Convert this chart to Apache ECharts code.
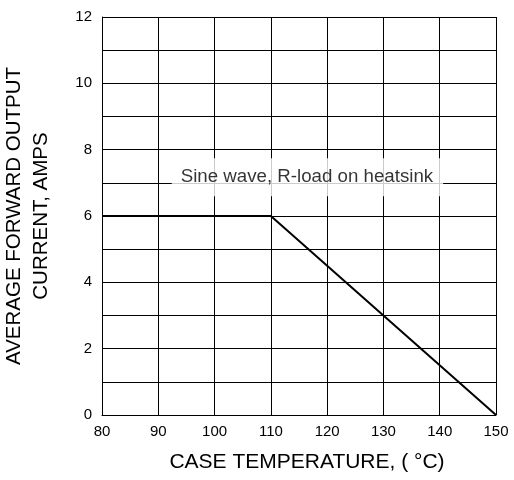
<!DOCTYPE html>
<html>
<head>
<meta charset="utf-8">
<script src="https://cdn.jsdelivr.net/npm/echarts@6/dist/echarts.min.js"></script>
<style>html,body{margin:0;padding:0;background:#fff;}#c{width:514px;height:480px;}</style>
</head>
<body>
<div id="c"></div>
<script>
// Data
var tempC = [80, 110, 150];
var currentA = [6, 6, 0];
var xTicks = [80, 90, 100, 110, 120, 130, 140, 150];
var yTickLabels = [0, 2, 4, 6, 8, 10, 12];
var noteText = 'Sine wave, R-load on heatsink';
var notePos = [116.5, 7.17];

var chart = echarts.init(document.getElementById('c'), null, {renderer: 'canvas'});
var font = '"Liberation Sans", Arial, sans-serif';
chart.setOption({
  animation: false,
  backgroundColor: '#fff',
  grid: {left: 102, right: 18, top: 17, bottom: 65, containLabel: false, outerBoundsMode: 'none'},
  xAxis: {
    type: 'value', min: 80, max: 150, interval: 10,
    name: 'CASE TEMPERATURE, ( °C)', nameLocation: 'middle', nameGap: 37,
    nameTextStyle: {fontFamily: font, fontSize: 21, color: '#000', padding: [0, 0, 0, 16]},
    axisLine: {show: true, lineStyle: {color: '#000', width: 1}},
    axisTick: {show: false},
    axisLabel: {fontFamily: font, fontSize: 15, color: '#000', margin: 9,
      formatter: function (v) { return xTicks.indexOf(v) >= 0 ? String(v) : ''; }},
    splitLine: {show: true, lineStyle: {color: '#000', width: 1}}
  },
  yAxis: {
    type: 'value', min: 0, max: 12, interval: 1,
    name: 'AVERAGE FORWARD OUTPUT\nCURRENT, AMPS', nameLocation: 'middle', nameGap: 47, nameRotate: 90,
    nameTextStyle: {fontFamily: font, fontSize: 20.5, color: '#000', lineHeight: 27},
    axisLine: {show: true, lineStyle: {color: '#000', width: 1}},
    axisTick: {show: false},
    axisLabel: {fontFamily: font, fontSize: 15, color: '#000', margin: 10,
      formatter: function (v) { return yTickLabels.indexOf(v) >= 0 ? String(v) : ''; }},
    splitLine: {show: true, lineStyle: {color: '#000', width: 1}}
  },
  series: [
    {
      type: 'line', data: tempC.map(function (t, i) { return [t, currentA[i]]; }),
      symbol: 'none', lineStyle: {color: '#000', width: 2}, z: 3
    },
    {
      type: 'scatter', data: [notePos], symbolSize: 0, z: 5,
      label: {show: true, position: 'inside', formatter: noteText,
        fontFamily: font, fontSize: 18.7, color: '#000',
        backgroundColor: '#fff', padding: [10, 10, 9, 9]}
    }
  ]
});
</script>
</body>
</html>
